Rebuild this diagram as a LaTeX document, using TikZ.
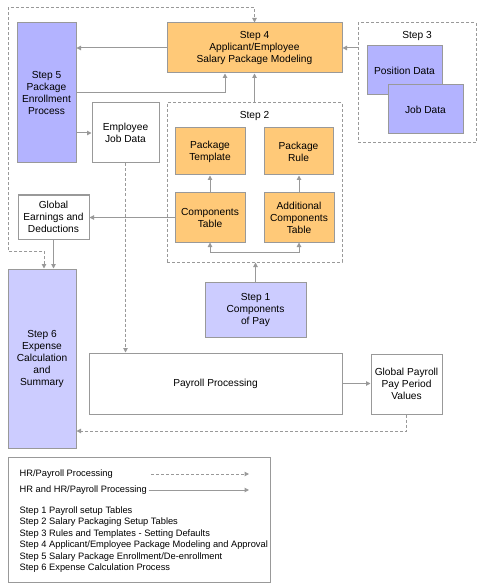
\documentclass[tikz,border=0pt]{standalone}
\usepackage{fontspec}
\setmainfont{Liberation Sans}
\usetikzlibrary{arrows.meta,calc}
\definecolor{lg}{HTML}{999999}
\definecolor{orng}{HTML}{FFC978}
\definecolor{blu}{HTML}{B3B3FF}
\definecolor{lblu}{HTML}{CCCCFF}
\begin{document}
\begin{tikzpicture}[x=1pt,y=-1pt,
  box/.style={draw=lg,line width=1pt,inner sep=0pt,align=center,font=\fontsize{10.2}{12}\selectfont},
  frm/.style={draw=lg,line width=1pt,dash pattern=on 3pt off 2pt,inner sep=0pt},
  ttl/.style={inner sep=0pt,font=\fontsize{10.2}{12}\selectfont},
  lt/.style={inner sep=0pt,anchor=west,font=\fontsize{9.3}{11.4}\selectfont},
  arr/.style={draw=lg,line width=1pt,-{Triangle[length=4.5pt,width=4.5pt]}},
  darr/.style={arr,dash pattern=on 3pt off 2pt},
]
\useasboundingbox (0,0) rectangle (478,585);
% frames
\node[frm,minimum width=175pt,minimum height=159pt] (s2f) at (254.5,182.5) {};
\node[ttl] (s2t) at (254.5,116) {Step 2};
\node[frm,minimum width=118pt,minimum height=120pt] (s3f) at (417,83) {};
\node[ttl] (s3t) at (417,36) {Step 3};
% boxes
\node[box,fill=blu,minimum width=59pt,minimum height=140pt] (s5) at (46.5,93) {Step 5\\Package\\Enrollment\\Process};
\node[box,fill=orng,minimum width=175pt,minimum height=50pt] (s4) at (254.5,48) {Step 4\\Applicant/Employee\\Salary Package Modeling};
\node[box,fill=white,minimum width=67pt,minimum height=60pt] (ejd) at (125.5,133) {Employee\\Job Data};
\node[box,fill=orng,minimum width=70pt,minimum height=47pt] (pt) at (210,151.5) {Package\\Template};
\node[box,fill=orng,minimum width=69pt,minimum height=47pt] (pr) at (298.5,151.5) {Package\\Rule};
\node[box,fill=orng,minimum width=70pt,minimum height=49pt] (ct) at (210,217.5) {Components\\Table};
\node[box,fill=orng,minimum width=70pt,minimum height=49pt] (act) at (299,217.5) {Additional\\Components\\Table};
\node[box,fill=lblu,minimum width=101pt,minimum height=55pt] (s1) at (255.5,309.5) {Step 1\\Components\\of Pay};
\node[box,fill=blu,minimum width=75pt,minimum height=49pt] (pos) at (404.5,70.5) {Position Data};
\node[box,fill=blu,minimum width=75pt,minimum height=49pt] (job) at (425.5,109.5) {Job Data};
\node[box,fill=white,minimum width=71pt,minimum height=44pt] (ged) at (53.5,217) {Global\\Earnings and\\Deductions};
\node[box,fill=lblu,minimum width=68pt,minimum height=179pt] (s6) at (42,358.5) {Step 6\\Expense\\Calculation\\and\\Summary};
\node[box,fill=white,minimum width=253pt,minimum height=61pt] (pp) at (215.5,383.5) {Payroll Processing};
\node[box,fill=white,minimum width=71pt,minimum height=60pt] (gpv) at (406.5,384) {Global Payroll\\Pay Period\\Values};
% connectors
\draw[arr] (s4.west) -- (s4.west -| s5.east);
\draw[arr] (s5.east) -| ([xshift=-29.5pt]s4.south);
\draw[arr] (s5.east |- ejd.west) -- (ejd.west);
\draw[arr] (s3f.west |- s4.east) -- (s4.east);
\draw[arr] (s2f.north) -- (s2f.north |- s4.south);
\draw[arr] (ct.north) -- (ct.north |- pt.south);
\draw[arr] (act.north) -- (act.north |- pr.south);
\draw[arr] (s1.north) -- (s1.north |- s2f.south);
\draw[arr] ([yshift=-10pt]ct.south) -- (ct.south);
\draw[arr] ([yshift=-10pt]ct.south) -- ([yshift=-10pt]act.south) -- (act.south);
\draw[arr] (ct.west) -- (ct.west -| ged.east);
\draw[arr] (ged.south) -- (ged.south |- s6.north);
\draw[darr,{Triangle[length=4.5pt,width=4.5pt]}-{Triangle[length=4.5pt,width=4.5pt]}] ([xshift=2pt]s6.north) |- (8,251) |- (254.5,8) -- (s4.north);
\draw[darr] (ejd.south) -- (ejd.south |- pp.north);
\draw[arr] (pp.east) -- (pp.east -| gpv.west);
\draw[darr] (gpv.south) |- ([yshift=-72.5pt]s6.east);
% legend
\node[draw=lg,line width=1pt,minimum width=262pt,minimum height=125pt,inner sep=0pt] (leg) at (139,519.5) {};
\node[lt] (l1) at (19.5,474) {HR/Payroll Processing};
\coordinate (l1a) at (151,474);
\coordinate (l1b) at (249,474);
\draw[darr] (l1a) -- (l1b);
\node[lt] (l2) at (19.5,490) {HR and HR/Payroll Processing};
\draw[arr] ([xshift=1.5pt]l2.east) -- (l2.east -| l1b);
\node[lt] (t1) at (19.5,511) {Step 1 Payroll setup Tables};
\node[lt] (t2) at (19.5,522.5) {Step 2 Salary Packaging Setup Tables};
\node[lt] (t3) at (19.5,534) {Step 3 Rules and Templates - Setting Defaults};
\node[lt] (t4) at (19.5,545.5) {Step 4 Applicant/Employee Package Modeling and Approval};
\node[lt] (t5) at (19.5,557) {Step 5 Salary Package Enrollment/De-enrollment};
\node[lt] (t6) at (19.5,568) {Step 6 Expense Calculation Process};
\end{tikzpicture}
\end{document}
